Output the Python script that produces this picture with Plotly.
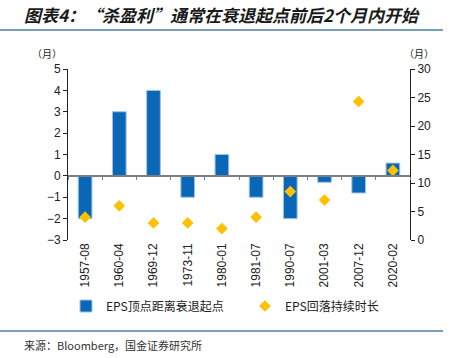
import plotly.graph_objects as go

categories = ["1957-08", "1960-04", "1969-12", "1973-11", "1980-01",
              "1981-07", "1990-07", "2001-03", "2007-12", "2020-02"]
eps_peak_gap = [-2, 3, 4, -1, 1, -1, -2, -0.3, -0.8, 0.6]
eps_decline_len = [4, 6, 3, 3, 2, 4, 8.5, 7, 24.3, 12.2]
left_ticks = [-3, -2, -1, 0, 1, 2, 3, 4, 5]
right_ticks = [0, 5, 10, 15, 20, 25, 30]

BLUE = "#0a66b7"
GOLD = "#ffc000"
FONT = "Liberation Sans, Arial, Noto Sans CJK SC, sans-serif"
CJK = "Noto Sans CJK SC, sans-serif"

W, H = 453, 358
L, R, T, B = 68, 410, 69, 240


def px(x):
    return (x - L) / (R - L)


def py(y):
    return (B - y) / (B - T)


fig = go.Figure()
fig.add_trace(go.Bar(
    x=categories, y=eps_peak_gap, name="EPS顶点距离衰退起点",
    marker=dict(color=BLUE, line=dict(color="#9cc3e6", width=1)),
    width=0.4, xaxis="x", yaxis="y", legend="legend"))
fig.add_trace(go.Scatter(
    x=categories, y=eps_decline_len, name="EPS回落持续时长", mode="markers",
    marker=dict(symbol="diamond", color=GOLD, size=9),
    xaxis="x2", yaxis="y2", legend="legend2"))

leg_common = dict(orientation="h", xanchor="left", yanchor="middle",
                  font=dict(family=CJK, size=12, color="#222"),
                  bgcolor="rgba(0,0,0,0)", itemwidth=30)

fig.update_layout(
    width=W, height=H,
    margin=dict(l=L, r=W - R, t=T, b=H - B, autoexpand=False),
    paper_bgcolor="white", plot_bgcolor="white",
    font=dict(family=FONT, size=12, color="#222"),
    showlegend=True,
    legend=dict(x=px(66), y=py(306), **leg_common),
    legend2=dict(x=px(245), y=py(306), **leg_common),
    xaxis=dict(type="category", showline=False, ticks="", showgrid=False,
               tickangle=-90, tickfont=dict(size=12), zeroline=False,
               range=[-0.5, 9.5]),
    xaxis2=dict(type="category", overlaying="x", anchor="free", position=0.375,
                showline=True, linecolor="#7f7f7f", linewidth=1.5,
                ticks="outside", ticklen=3, tickcolor="#7f7f7f",
                tickson="boundaries", showticklabels=False, showgrid=False,
                range=[-0.5, 9.5]),
    yaxis=dict(range=[-3, 5], tickvals=left_ticks, showgrid=False, zeroline=False,
               showline=True, linecolor="#222", linewidth=1,
               ticks="outside", ticklen=4, tickcolor="#222",
               tickfont=dict(size=12)),
    yaxis2=dict(range=[0, 30], tickvals=right_ticks, overlaying="y", side="right",
                anchor="x", showgrid=False, zeroline=False,
                showline=True, linecolor="#222", linewidth=1,
                ticks="outside", ticklen=4, tickcolor="#222",
                tickfont=dict(size=12)),
    bargap=0.6,
)

fig.add_annotation(text="<b><i>图表4：“杀盈利”通常在衰退起点前后2个月内开始</i></b>",
                   xref="paper", yref="paper", x=px(22), y=py(15), xanchor="left",
                   yanchor="middle", showarrow=False,
                   font=dict(family=CJK, size=17, color="#1a1a1a"))
fig.add_annotation(text="（月）", xref="paper", yref="paper", x=px(64), y=py(53),
                   xanchor="right", yanchor="middle", showarrow=False,
                   font=dict(family=CJK, size=10, color="#222"))
fig.add_annotation(text="（月）", xref="paper", yref="paper", x=px(402), y=py(53),
                   xanchor="left", yanchor="middle", showarrow=False,
                   font=dict(family=CJK, size=10, color="#222"))
fig.add_annotation(text="来源：Bloomberg，国金证券研究所", xref="paper", yref="paper",
                   x=px(22), y=py(345), xanchor="left", yanchor="middle",
                   showarrow=False, font=dict(family=CJK, size=11, color="#333"))
for yy in (30, 331):
    fig.add_shape(type="line", xref="paper", yref="paper",
                  x0=px(0), x1=px(443), y0=py(yy), y1=py(yy),
                  line=dict(color="#4a7fa6", width=1.5))

fig.write_html("out.html", config={"displayModeBar": False},
               post_script="document.body.style.margin='0';document.body.style.overflow='hidden';")
